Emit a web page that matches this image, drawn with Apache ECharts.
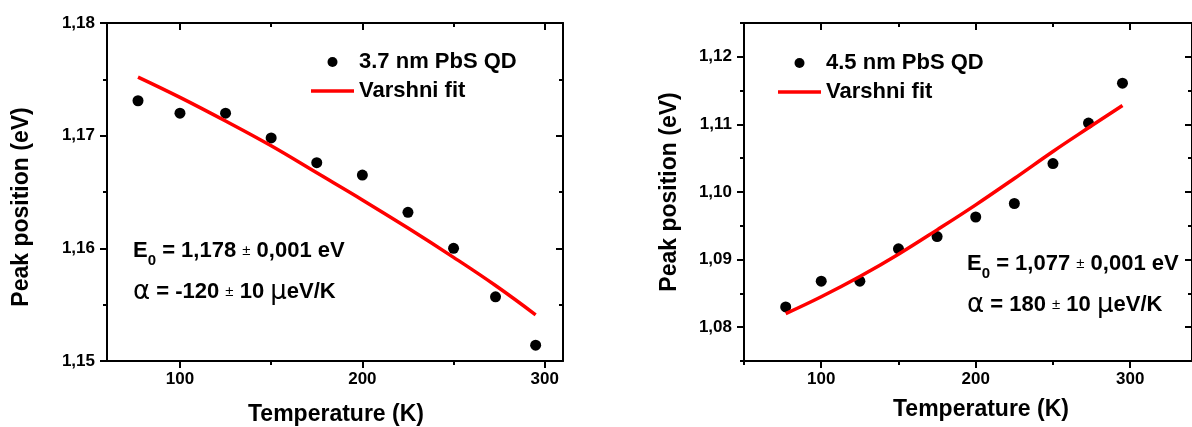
<!DOCTYPE html>
<html>
<head>
<meta charset="utf-8">
<script src="https://cdn.jsdelivr.net/npm/echarts@6/dist/echarts.min.js"></script>
<style>
  html, body { margin: 0; padding: 0; background: #fff; }
  #chart { width: 1192px; height: 427px; }
</style>
</head>
<body>
<div id="chart"></div>
<script>
// temperatures (K)
var temps = [77, 100, 125, 150, 175, 200, 225, 250, 273, 295]
// 3.7 nm QD: measured peak and Varshni fit (eV)
var peakSmall = [1.1731, 1.1720, 1.1720, 1.1698, 1.1676, 1.1665, 1.1632, 1.1600, 1.1557, 1.1514]
var fitSmall = [1.1752, 1.1734, 1.1713, 1.1691, 1.1667, 1.1643, 1.1618, 1.1592, 1.1567, 1.1541]
// 4.5 nm QD
var peakBig = [1.0830, 1.0868, 1.0868, 1.0916, 1.0934, 1.0963, 1.0983, 1.1042, 1.1102, 1.1161]
var fitBig = [1.0820, 1.0845, 1.0875, 1.0908, 1.0944, 1.0981, 1.1020, 1.1060, 1.1095, 1.1128]

// tick positions
var xMajor = [100, 200, 300]
var xMinorSmall = [150, 250]
var xMinorBig = [50, 150, 250]
var yMajorSmall = [1.15, 1.16, 1.17, 1.18]
var yMinorSmall = [1.155, 1.165, 1.175]
var yMajorBig = [1.08, 1.09, 1.10, 1.11, 1.12]
var yMinorBig = [1.075, 1.085, 1.095, 1.105, 1.115, 1.125]

var FONT = '"Liberation Sans", Arial, sans-serif'
var black = { color: '#000', width: 2 }

function pairs (xs, ys) {
  return xs.map(function (x, i) { return [x, ys[i]] })
}

function fmtY (v) {
  return v.toFixed(2).replace('.', ',')
}

// one axis of the frame: major or minor ticks, with or without line/labels
function frameAxis (grid, pos, min, max, ticks, len, withLine, withLabel) {
  var inside = pos === 'top' || pos === 'right'
  return {
    type: 'value',
    gridIndex: grid,
    position: pos,
    min: min,
    max: max,
    offset: 0,
    axisLine: { show: withLine, onZero: false, lineStyle: black },
    axisTick: { show: true, inside: inside, customValues: ticks, length: len, lineStyle: black },
    axisLabel: {
      show: withLabel,
      customValues: ticks,
      margin: pos === 'left' ? 12 : 10,
      color: '#000',
      fontSize: 17,
      fontWeight: 'bold',
      fontFamily: FONT,
      formatter: pos === 'left' ? fmtY : '{value}'
    },
    splitLine: { show: false }
  }
}

function frame (grid, xmin, xmax, xMinor, ymin, ymax, yMajor, yMinor) {
  return {
    x: [
      frameAxis(grid, 'bottom', xmin, xmax, xMajor, 7, true, true),
      frameAxis(grid, 'bottom', xmin, xmax, xMinor, 4, false, false),
      frameAxis(grid, 'top', xmin, xmax, xMajor, 7, true, false),
      frameAxis(grid, 'top', xmin, xmax, xMinor, 4, false, false)
    ],
    y: [
      frameAxis(grid, 'left', ymin, ymax, yMajor, 7, true, true),
      frameAxis(grid, 'left', ymin, ymax, yMinor, 4, false, false),
      frameAxis(grid, 'right', ymin, ymax, yMajor, 7, true, false),
      frameAxis(grid, 'right', ymin, ymax, yMinor, 4, false, false)
    ]
  }
}

var fA = frame(0, 60, 310, xMinorSmall, 1.15, 1.18, yMajorSmall, yMinorSmall)
var fB = frame(1, 50, 340, xMinorBig, 1.075, 1.125, yMajorBig, yMinorBig)

var rich = {
  b: { fontSize: 22, fontWeight: 'bold', fontFamily: FONT, color: '#000', lineHeight: 22 },
  s: { fontSize: 15, fontWeight: 'bold', fontFamily: FONT, color: '#000', lineHeight: 15, verticalAlign: 'top', padding: [13, 0, 0, 0] },
  p: { fontSize: 15, fontWeight: 'normal', fontFamily: FONT, color: '#222', lineHeight: 22 },
  g: { fontSize: 26, fontWeight: 'normal', fontFamily: '"DejaVu Sans", sans-serif', color: '#000', lineHeight: 22 }
}

function note (x, y, str) {
  return { type: 'text', x: x, y: y, style: { text: str, rich: rich, align: 'left', verticalAlign: 'middle' } }
}

function title (x, y, str, rot) {
  return {
    type: 'text', x: x, y: y, rotation: rot,
    style: { text: str, font: 'bold 23px ' + FONT, fill: '#000', align: 'center', verticalAlign: 'middle' }
  }
}

// plain red bar for the fit entry of the legend
var lineIcon = 'path://M0,0L43,0L43,3.5L0,3.5Z'

var legendBase = {
  orient: 'vertical',
  padding: 0,
  itemWidth: 43,
  itemHeight: 10,
  itemGap: 7,
  textStyle: { fontSize: 22, fontWeight: 'bold', fontFamily: FONT, color: '#000', lineHeight: 22, padding: [0, 0, 0, 0] },
  selectedMode: false
}

var chart = echarts.init(document.getElementById('chart'))
chart.setOption({
  animation: false,
  backgroundColor: '#fff',
  grid: [
    { left: 107, top: 23, width: 456, height: 338 },
    { left: 744, top: 23, width: 474.5, height: 338 }
  ],
  xAxis: fA.x.concat(fB.x),
  yAxis: fA.y.concat(fB.y),
  legend: [
    Object.assign({}, legendBase, {
      left: 311, top: 51,
      data: [{ name: '3.7 nm PbS QD', icon: 'circle' }, { name: 'Varshni fit', icon: lineIcon }]
    }),
    Object.assign({}, legendBase, {
      left: 778, top: 52,
      data: [{ name: '4.5 nm PbS QD', icon: 'circle' }, { name: 'Varshni fit', icon: lineIcon }]
    })
  ],
  graphic: [
    title(22, 207, 'Peak position (eV)', Math.PI / 2),
    title(336, 415, 'Temperature (K)', 0),
    title(670, 192, 'Peak position (eV)', Math.PI / 2),
    title(981, 410, 'Temperature (K)', 0),
    note(133, 251, '{b|E}{s|0}{b| = 1,178 }{p|±}{b| 0,001 eV}'),
    note(133, 292, '{g|α}{b| = -120 }{p|±}{b| 10 }{g|µ}{b|eV/K}'),
    note(967, 264, '{b|E}{s|0}{b| = 1,077 }{p|±}{b| 0,001 eV}'),
    note(967, 305, '{g|α}{b| = 180 }{p|±}{b| 10 }{g|µ}{b|eV/K}')
  ],
  series: [
    {
      name: '3.7 nm PbS QD', type: 'scatter', xAxisIndex: 0, yAxisIndex: 0,
      data: pairs(temps, peakSmall), symbolSize: 11, itemStyle: { color: '#000', opacity: 1 }
    },
    {
      name: 'Varshni fit', type: 'line', xAxisIndex: 0, yAxisIndex: 0,
      data: pairs(temps, fitSmall), symbol: 'none', smooth: 0.4,
      lineStyle: { color: '#ff0000', width: 3.5 }, itemStyle: { color: '#ff0000' }
    },
    {
      name: '4.5 nm PbS QD', type: 'scatter', xAxisIndex: 4, yAxisIndex: 4,
      data: pairs(temps, peakBig), symbolSize: 11, itemStyle: { color: '#000', opacity: 1 }
    },
    {
      name: 'Varshni fit', type: 'line', xAxisIndex: 4, yAxisIndex: 4,
      data: pairs(temps, fitBig), symbol: 'none', smooth: 0.4,
      lineStyle: { color: '#ff0000', width: 3.5 }, itemStyle: { color: '#ff0000' }
    }
  ]
})
</script>
</body>
</html>
